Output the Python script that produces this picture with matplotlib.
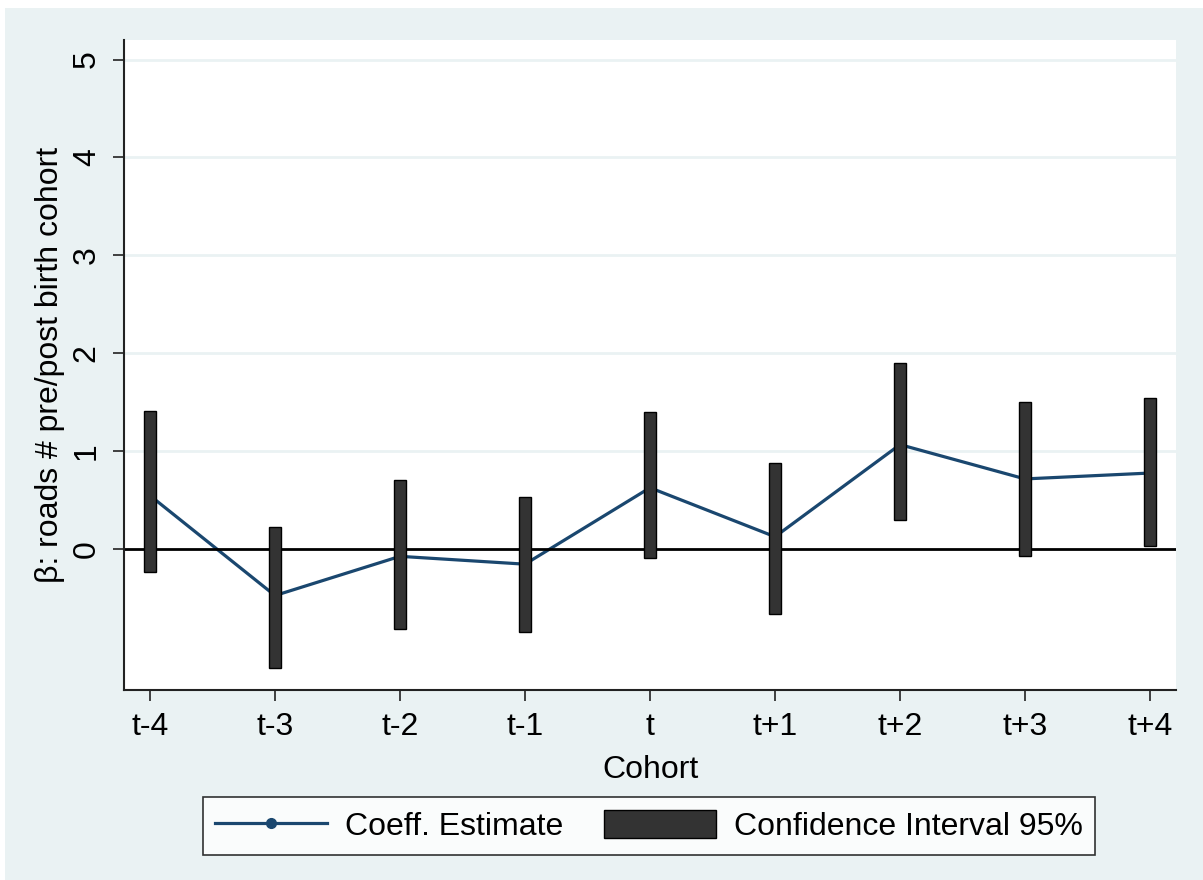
import matplotlib
matplotlib.use("Agg")
import matplotlib.pyplot as plt
from matplotlib.patches import Rectangle, Patch
from matplotlib.lines import Line2D

plt.rcParams['font.family'] = ['Liberation Sans', 'DejaVu Sans']

# data
cohorts = ["t-4", "t-3", "t-2", "t-1", "t", "t+1", "t+2", "t+3", "t+4"]
coef = [0.55, -0.47, -0.07, -0.15, 0.63, 0.13, 1.07, 0.72, 0.78]
ci_low = [-0.23, -1.21, -0.81, -0.84, -0.09, -0.66, 0.30, -0.07, 0.04]
ci_high = [1.41, 0.23, 0.71, 0.54, 1.40, 0.88, 1.90, 1.51, 1.55]
yticks = [0, 1, 2, 3, 4, 5]

bg = "#eaf2f3"
navy = "#1a476f"
dark = "#333333"
fs = 23

W, H = 1203, 880
fig = plt.figure(figsize=(W / 100, H / 100), dpi=100, facecolor="white")
# light blue graph region (white strip at top/left as in the screenshot)
fig.patches.append(Rectangle((5 / W, 0), 1, 1 - 8 / H, transform=fig.transFigure,
                             facecolor=bg, edgecolor="none", zorder=-10))

ax = fig.add_axes([124 / W, 1 - 690 / H, (1176 - 124) / W, (690 - 40) / H])
ax.set_facecolor("white")

x = list(range(len(cohorts)))
heights = [h - l for h, l in zip(ci_high, ci_low)]

ax.plot(x, coef, color=navy, lw=2.3, marker="o", ms=5, zorder=2)
ax.bar(x, heights, bottom=ci_low, width=0.09, color=dark, edgecolor="black",
       linewidth=1, zorder=3)
ax.axhline(0, color="black", lw=2, zorder=2.5)

ax.set_xlim(-0.208, 8.208)
ax.set_ylim(-1.434, 5.199)
ax.set_xticks(x)
ax.set_xticklabels(cohorts, fontsize=fs)
ax.set_yticks(yticks)
ax.set_yticklabels([str(v) for v in yticks], fontsize=fs, rotation=90, va="center")
for v in yticks[1:]:
    ax.axhline(v, color=bg, lw=2, zorder=1)

ax.tick_params(axis="both", length=8, width=1.2, color="#222222", pad=8)
for s in ["top", "right"]:
    ax.spines[s].set_visible(False)
for s in ["left", "bottom"]:
    ax.spines[s].set_linewidth(1.5)
    ax.spines[s].set_color("#222222")

ax.set_xlabel("Cohort", fontsize=fs, labelpad=9)
ax.set_ylabel("β: roads # pre/post birth cohort", fontsize=fs, labelpad=5)

handles = [Line2D([0], [0], color=navy, lw=2.3, marker="o", ms=7),
           Patch(facecolor=dark, edgecolor="black", linewidth=1)]
leg = fig.legend(handles, ["Coeff. Estimate", "Confidence Interval 95%"],
                 ncol=2, loc="center", bbox_to_anchor=(649 / W, 1 - 826 / H),
                 fontsize=fs, frameon=True, fancybox=False, edgecolor="black",
                 handlelength=3.5, handleheight=1.0, columnspacing=1.3,
                 borderpad=0.4, handletextpad=0.55)
leg.get_frame().set_linewidth(1.2)
leg.get_frame().set_facecolor("white")

fig.savefig("out.png", dpi=100, facecolor=fig.get_facecolor())
